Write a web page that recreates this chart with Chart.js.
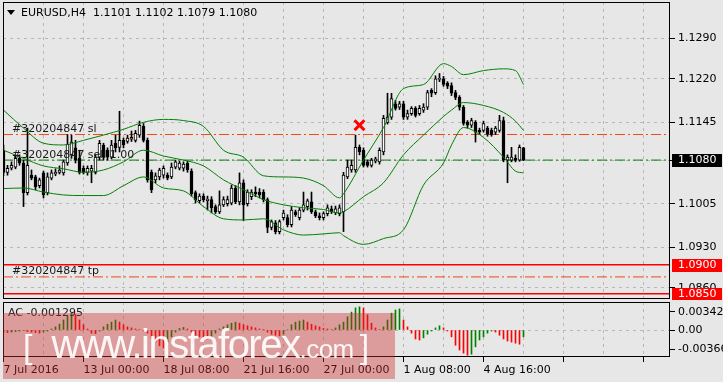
<!DOCTYPE html>
<html>
<head>
<meta charset="utf-8">
<script src="https://cdn.jsdelivr.net/npm/chart.js@4.4.0/dist/chart.umd.min.js"></script>
<style>
html, body { margin: 0; padding: 0; background: #e7e7e7; }
#wrap { position: relative; width: 723px; height: 382px; overflow: hidden; }
canvas { position: absolute; left: 0; }
#main { top: 0; }
#ac { top: 300px; }
#wm { position: absolute; left: 3px; top: 313px; width: 392px; height: 66px; background: rgba(205,45,45,0.4); }
#wmt { position: absolute; left: 23px; top: 325px; font-family: "Liberation Sans", Arial, sans-serif;
       font-size: 40px; line-height: 38px; color: rgba(255,255,255,0.92); white-space: nowrap; }
#wmt .br { font-size: 34px; }
#wmt .www { margin-left: 19px; letter-spacing: -1.5px; }
#wmt .com { font-size: 26px; letter-spacing: -0.5px; }
#wmt .br2 { margin-left: 6px; }
</style>
</head>
<body>
<div id="wrap">
  <canvas id="main" width="723" height="300"></canvas>
  <canvas id="ac" width="723" height="82"></canvas>
  <div id="wm"></div>
  <div id="wmt"><span class="br">[</span><span class="www">www.instaforex</span><span class="com">.com</span><span class="br br2">]</span></div>
</div>
<script>
// EURUSD H4 candles, one per 4 hours
const symbol = "EURUSD,H4";
const open = [
1.1097,1.1059,1.1066,1.1068,1.1083,1.1075,1.1024,1.1054,1.1051,1.1036,
1.1058,1.1024,1.1049,1.1056,1.1059,1.1058,1.1075,1.1089,1.1101,1.1083,
1.1066,1.1059,1.1061,1.1059,1.1085,1.1106,1.1097,1.1085,1.1109,1.1102,
1.1114,1.1112,1.1116,1.1114,1.1123,1.1138,1.1114,1.1059,1.1046,1.1051,
1.1054,1.1054,1.1051,1.1068,1.1066,1.1066,1.1075,1.1061,1.1024,1.1010,
1.1018,1.1010,1.1012,1.1000,1.0991,1.1003,1.1005,1.1006,1.1032,1.1008,
1.1041,1.1005,1.1017,1.1025,1.1025,1.1025,1.1012,1.0964,1.0972,1.0957,
1.0981,1.0981,1.0969,1.0991,1.0981,1.0994,1.1000,1.1008,1.0991,1.0984,
1.0981,1.0988,1.0996,1.0989,1.0988,1.0991,1.1051,1.1063,1.1063,1.1102,
1.1097,1.1077,1.1071,1.1078,1.1077,1.1094,1.1145,1.1154,1.1177,1.1171,
1.1177,1.1154,1.1160,1.1169,1.1160,1.1166,1.1171,1.1200,1.1196,1.1219,
1.1220,1.1212,1.1208,1.1196,1.1188,1.1171,1.1145,1.1140,1.1145,1.1131,
1.1131,1.1135,1.1131,1.1128,1.1131,1.1148,1.1080,1.1080,1.1083,1.1080,
1.1101];
const high = [
1.1106,1.1071,1.1077,1.1089,1.1089,1.1080,1.1135,1.1063,1.1054,1.1049,
1.1061,1.1058,1.1063,1.1065,1.1070,1.1080,1.1124,1.1123,1.1114,1.1097,
1.1070,1.1070,1.1071,1.1089,1.1114,1.1109,1.1101,1.1114,1.1123,1.1164,
1.1118,1.1123,1.1130,1.1131,1.1147,1.1143,1.1118,1.1063,1.1058,1.1066,
1.1070,1.1058,1.1075,1.1080,1.1078,1.1077,1.1078,1.1065,1.1027,1.1022,
1.1022,1.1018,1.1017,1.1003,1.1027,1.1017,1.1018,1.1037,1.1036,1.1058,
1.1046,1.1029,1.1029,1.1034,1.1031,1.1029,1.1015,1.0977,1.0976,1.0977,
1.0994,1.0986,1.1000,1.0994,1.0998,1.1025,1.1013,1.1025,1.0994,1.0989,
1.0991,1.1003,1.1001,1.1001,1.1003,1.1059,1.1080,1.1080,1.1123,1.1106,
1.1101,1.1080,1.1083,1.1085,1.1101,1.1157,1.1195,1.1195,1.1183,1.1181,
1.1181,1.1166,1.1172,1.1172,1.1174,1.1177,1.1200,1.1203,1.1225,1.1229,
1.1224,1.1215,1.1213,1.1200,1.1191,1.1174,1.1148,1.1152,1.1148,1.1135,
1.1147,1.1138,1.1135,1.1138,1.1157,1.1154,1.1089,1.1102,1.1089,1.1106,
1.1102];
const low = [
1.1053,1.1054,1.1063,1.1065,1.1071,1.1000,1.1020,1.1046,1.1029,1.1032,
1.1015,1.1020,1.1046,1.1053,1.1056,1.1054,1.1071,1.1083,1.1075,1.1056,
1.1056,1.1054,1.1041,1.1056,1.1080,1.1080,1.1080,1.1082,1.1094,1.1094,
1.1101,1.1109,1.1112,1.1111,1.1119,1.1111,1.1042,1.1024,1.1041,1.1046,
1.1049,1.1046,1.1048,1.1065,1.1063,1.1061,1.1059,1.1018,1.1006,1.1006,
1.1008,1.0994,1.0989,1.0988,1.0988,1.1000,1.1001,1.1003,1.1005,1.1003,
1.0976,1.1001,1.1012,1.1017,1.1015,1.1008,1.0955,1.0960,1.0953,1.0953,
1.0977,1.0965,1.0965,1.0983,1.0977,1.0991,1.0994,1.0988,1.0981,1.0977,
1.0977,1.0984,1.0988,1.0986,1.0984,1.0957,1.1048,1.1059,1.1059,1.1089,
1.1068,1.1068,1.1068,1.1075,1.1073,1.1089,1.1142,1.1150,1.1166,1.1167,
1.1150,1.1150,1.1157,1.1154,1.1157,1.1162,1.1167,1.1189,1.1193,1.1215,
1.1207,1.1203,1.1191,1.1184,1.1166,1.1140,1.1135,1.1136,1.1111,1.1124,
1.1128,1.1121,1.1121,1.1124,1.1128,1.1077,1.1041,1.1077,1.1077,1.1078,
1.1079];
const close = [
1.1059,1.1066,1.1071,1.1083,1.1075,1.1024,1.1071,1.1049,1.1034,1.1046,
1.1020,1.1051,1.1058,1.1059,1.1063,1.1077,1.1107,1.1111,1.1080,1.1059,
1.1059,1.1066,1.1066,1.1085,1.1109,1.1085,1.1085,1.1106,1.1101,1.1114,
1.1106,1.1118,1.1119,1.1126,1.1140,1.1114,1.1046,1.1029,1.1053,1.1063,
1.1066,1.1049,1.1068,1.1077,1.1075,1.1073,1.1063,1.1022,1.1012,1.1018,
1.1012,1.1013,1.0998,1.0991,1.1003,1.1012,1.1012,1.1032,1.1008,1.1041,
1.1003,1.1025,1.1025,1.1022,1.1020,1.1012,1.0964,1.0974,1.0957,1.0974,
1.0989,1.0969,1.0994,1.0986,1.0994,1.1003,1.1010,1.0991,1.0984,1.0981,
1.0988,1.0998,1.0991,1.0996,1.0998,1.1054,1.1068,1.1071,1.1102,1.1094,
1.1071,1.1071,1.1080,1.1082,1.1097,1.1152,1.1154,1.1186,1.1169,1.1177,
1.1154,1.1160,1.1169,1.1157,1.1169,1.1171,1.1196,1.1195,1.1220,1.1220,
1.1210,1.1207,1.1195,1.1188,1.1171,1.1143,1.1140,1.1148,1.1128,1.1128,
1.1143,1.1124,1.1124,1.1135,1.1148,1.1080,1.1085,1.1085,1.1080,1.1102,
1.1080];

// Bollinger bands read at every few bars
const bbBar = [0,5,10,15,20,25,30,35,40,45,50,55,60,65,70,75,80,84,85,90,95,100,105,110,112,115,120,125,128,130];
const bbUpper = [1.1166,1.1135,1.1109,1.1106,1.1114,1.1123,1.1133,1.1145,1.1150,1.1148,1.1138,1.1097,1.1085,1.1053,1.1051,1.1049,1.1036,1.1015,1.1022,1.1080,1.1136,1.1203,1.1210,1.1246,1.1241,1.1227,1.1234,1.1237,1.1234,1.1210];
const bbMiddle = [1.1097,1.1083,1.1070,1.1065,1.1059,1.1063,1.1077,1.1097,1.1087,1.1080,1.1070,1.1046,1.1029,1.1012,1.1003,1.0998,1.0995,1.0989,1.0991,1.1017,1.1041,1.1089,1.1123,1.1155,1.1166,1.1179,1.1174,1.1162,1.1147,1.1131];
const bbLower = [1.1031,1.1032,1.1025,1.1020,1.1019,1.1019,1.1036,1.1051,1.1032,1.1027,1.1000,1.0979,1.0977,1.0979,1.0960,1.0951,1.0953,1.0955,1.0950,1.0935,1.0945,1.0960,1.1037,1.1075,1.1106,1.1136,1.1119,1.1085,1.1061,1.1058];

// Accelerator oscillator
const acValues = [
-0.0004,-0.0005,-0.0004,-0.0003,-0.0002,-0.0001,-0.0003,-0.0004,-0.0005,-0.0006,
-0.0004,-0.0002,0.0002,0.0006,0.0011,0.0019,0.0027,0.0032,0.0029,0.0019,
0.0010,0.0002,-0.0006,-0.0007,-0.0002,0.0006,0.0011,0.0015,0.0019,0.0015,
0.0010,0.0006,0.0004,0.0002,0.0001,-0.0002,-0.0006,-0.0015,-0.0023,-0.0030,
-0.0034,-0.0023,-0.0013,-0.0004,0.0003,0.0005,0.0002,-0.0004,-0.0010,-0.0013,
-0.0015,-0.0017,-0.0013,-0.0006,0.0002,0.0006,0.0010,0.0013,0.0015,0.0013,
0.0010,0.0008,0.0006,0.0004,0.0002,0.0001,-0.0004,-0.0008,-0.0010,-0.0011,
-0.0008,0.0000,0.0010,0.0015,0.0017,0.0019,0.0015,0.0011,0.0008,0.0006,
0.0003,0.0002,0.0001,0.0004,0.0010,0.0015,0.0025,0.0034,0.0042,0.0044,
0.0042,0.0029,0.0013,0.0004,0.0001,0.0006,0.0019,0.0032,0.0038,0.0040,
0.0019,0.0006,-0.0006,-0.0017,-0.0019,-0.0015,-0.0008,-0.0002,0.0004,0.0008,
0.0004,-0.0002,-0.0013,-0.0029,-0.0038,-0.0044,-0.0048,-0.0046,-0.0032,-0.0019,
-0.0013,-0.0006,-0.0002,-0.0004,-0.0010,-0.0017,-0.0021,-0.0023,-0.0025,-0.0027,
-0.001295];

// order levels
const levelNames = ["#320204847 sl", "#320204847 sell 1.00", "#320204847 tp", "", ""];
const levelPrices = [1.1124, 1.1080, 1.0879, 1.0900, 1.0850];
const closedMark = { bar: 89, price: 1.1140 };

// axis ticks
const priceTicks = [1.0860, 1.0930, 1.1005, 1.1080, 1.1145, 1.1220, 1.1290];
const acTicks = [-0.00366, 0, 0.003427];
const acTickLabels = ["-0.00366", "0.00", "0.003427"];
const timeBars = [0, 20, 40, 60, 80, 100, 120];
const timeLabels = ["7 Jul 2016", "13 Jul 00:00", "18 Jul 08:00", "21 Jul 16:00", "27 Jul 00:00", "1 Aug 08:00", "4 Aug 16:00"];

Chart.defaults.font.family = '"DejaVu Sans", sans-serif';
Chart.defaults.font.size = 11;
Chart.defaults.color = '#000';

const X_MIN = -0.125, X_MAX = 166.625;
const GRID = '#b8b8b8';
const DASH = [3, 4];
const gridBars = Array.from({ length: 17 }, (_, i) => i * 10);
const last = close.length - 1;

function xAxis(withLabels) {
  return {
    type: 'linear', min: X_MIN, max: X_MAX, offset: false,
    afterBuildTicks: s => { s.ticks = gridBars.map(v => ({ value: v })); },
    afterFit: s => { s.height = withLabels ? 25 : 0; s.paddingLeft = 0; s.paddingRight = 0; },
    grid: {
      offset: false, color: GRID, drawTicks: withLabels, tickLength: 5, tickBorderDash: [],
      tickColor: c => (c.tick && c.tick.value % 20 === 0) ? '#000' : 'rgba(0,0,0,0)'
    },
    border: { display: false, dash: DASH },
    ticks: {
      display: withLabels, autoSkip: false, maxRotation: 0, align: 'start', padding: 2,
      callback: v => { const k = timeBars.indexOf(v); return k < 0 ? '' : timeLabels[k]; }
    }
  };
}

function frame(chart) {
  const { ctx, chartArea: a } = chart;
  ctx.save();
  ctx.strokeStyle = '#000';
  ctx.lineWidth = 1;
  ctx.strokeRect(a.left + 0.5, a.top + 0.5, a.right - a.left - 1, a.bottom - a.top - 1);
  ctx.restore();
}

const mainDecor = {
  id: 'mainDecor',
  afterDatasetsDraw(chart) {
    const { ctx, scales: { y } } = chart;
    ctx.save();
    ctx.font = '11px "DejaVu Sans"';
    ctx.fillStyle = '#1a1a1a';
    ctx.textBaseline = 'alphabetic';
    levelNames.forEach((name, i) => {
      if (!name) return;
      ctx.fillText(name, 12, Math.round(y.getPixelForValue(levelPrices[i])) - (i === 1 ? 2 : 3));
    });
    // title
    ctx.fillStyle = '#000';
    ctx.beginPath();
    ctx.moveTo(7, 10); ctx.lineTo(15, 10); ctx.lineTo(11, 15); ctx.closePath();
    ctx.fill();
    ctx.textBaseline = 'middle';
    const t = symbol + '  ' + [open[last], high[last], low[last], close[last]].map(v => v.toFixed(4)).join(' ');
    ctx.fillText(t, 21, 13);
    ctx.restore();
  },
  afterDraw(chart) {
    frame(chart);
    const { ctx, scales: { y } } = chart;
    const boxes = [[close[last], '#000'], [levelPrices[3], '#ff0000'], [levelPrices[4], '#ff0000']];
    ctx.save();
    ctx.font = '11px "DejaVu Sans"';
    ctx.textBaseline = 'middle';
    boxes.forEach(([v, bg]) => {
      const py = Math.round(y.getPixelForValue(v));
      ctx.fillStyle = bg;
      ctx.fillRect(672, py - 6, 50, 13);
      ctx.fillStyle = '#fff';
      ctx.fillText(v.toFixed(4), 678, py + 0.5);
    });
    ctx.restore();
  }
};

const levelStyles = [
  { color: '#f04a1a', dash: [10, 3, 2, 3], width: 1 },
  { color: '#008000', dash: [10, 3, 2, 3], width: 1 },
  { color: '#f04a1a', dash: [10, 3, 2, 3], width: 1 },
  { color: '#ff0000', dash: [], width: 1.5 },
  { color: '#ff0000', dash: [], width: 1.5 }
];

const bars = close.map((_, i) => i);
const bandSet = (vals) => ({
  type: 'line', order: 0,
  data: bbBar.map((b, i) => ({ x: b, y: vals[i] })),
  borderColor: '#008000', borderWidth: 1, pointRadius: 0, cubicInterpolationMode: 'monotone'
});

new Chart(document.getElementById('main'), {
  type: 'bar',
  data: {
    datasets: [
      {
        type: 'line', order: -1, showLine: false,
        data: [{ x: closedMark.bar, y: closedMark.price }],
        pointStyle: 'crossRot', pointRadius: 7, pointBorderWidth: 3, borderColor: '#ff0000'
      },
      bandSet(bbUpper), bandSet(bbMiddle), bandSet(bbLower),
      {
        order: 1, grouped: false, barThickness: 3, minBarLength: 1,
        data: bars.map(i => ({ x: i, y: [open[i], close[i]] })),
        backgroundColor: bars.map(i => close[i] >= open[i] ? '#ffffff' : '#000000'),
        borderColor: '#000', borderWidth: 1, borderSkipped: false
      },
      {
        order: 2, grouped: false, barThickness: 1,
        data: bars.map(i => ({ x: i, y: [low[i], high[i]] })),
        backgroundColor: '#000'
      },
      ...levelPrices.map((p, i) => ({
        type: 'line', order: 3,
        data: [{ x: X_MIN, y: p }, { x: X_MAX, y: p }],
        borderColor: levelStyles[i].color, borderDash: levelStyles[i].dash,
        borderWidth: levelStyles[i].width, pointRadius: 0
      }))
    ]
  },
  options: {
    responsive: false, animation: false, devicePixelRatio: 1, events: [],
    layout: { autoPadding: false, padding: { left: 3, top: 2, right: 0, bottom: 1 } },
    plugins: { legend: { display: false }, tooltip: { enabled: false } },
    scales: {
      x: xAxis(false),
      y: {
        position: 'right', min: 1.0841, max: 1.1352, beginAtZero: false,
        afterBuildTicks: s => { s.ticks = priceTicks.map(v => ({ value: v })); },
        afterFit: s => { s.width = 53; s.paddingTop = 0; s.paddingBottom = 0; },
        grid: { color: GRID, tickLength: 5, tickColor: '#000', tickBorderDash: [] },
        border: { display: false, dash: DASH },
        ticks: { autoSkip: false, padding: 3, callback: v => v.toFixed(4) }
      }
    }
  },
  plugins: [mainDecor]
});

const acDecor = {
  id: 'acDecor',
  afterDraw(chart) {
    frame(chart);
    const { ctx } = chart;
    ctx.save();
    ctx.font = '11px "DejaVu Sans"';
    ctx.fillStyle = '#1a1a1a';
    ctx.textBaseline = 'middle';
    ctx.fillText('AC ' + acValues[last].toFixed(6), 8, 13);
    ctx.restore();
  }
};

new Chart(document.getElementById('ac'), {
  type: 'bar',
  data: {
    datasets: [{
      grouped: false, barThickness: 1,
      data: acValues.map((v, i) => ({ x: i, y: v })),
      backgroundColor: acValues.map((v, i) => (i > 0 && v > acValues[i - 1]) ? '#008000' : '#ff0000')
    }]
  },
  options: {
    responsive: false, animation: false, devicePixelRatio: 1, events: [],
    layout: { autoPadding: false, padding: { left: 3, top: 2, right: 0, bottom: 0 } },
    plugins: { legend: { display: false }, tooltip: { enabled: false } },
    scales: {
      x: xAxis(true),
      y: {
        position: 'right', min: -0.00513, max: 0.00532, beginAtZero: false,
        afterBuildTicks: s => { s.ticks = acTicks.map(v => ({ value: v })); },
        afterFit: s => { s.width = 53; s.paddingTop = 0; s.paddingBottom = 0; },
        grid: {
          color: c => (c.tick && c.tick.value === 0) ? GRID : 'rgba(0,0,0,0)',
          tickLength: 5, tickColor: '#000', tickBorderDash: []
        },
        border: { display: false, dash: DASH },
        ticks: { autoSkip: false, padding: 3, callback: (v, i) => acTickLabels[i] }
      }
    }
  },
  plugins: [acDecor]
});
</script>
</body>
</html>
